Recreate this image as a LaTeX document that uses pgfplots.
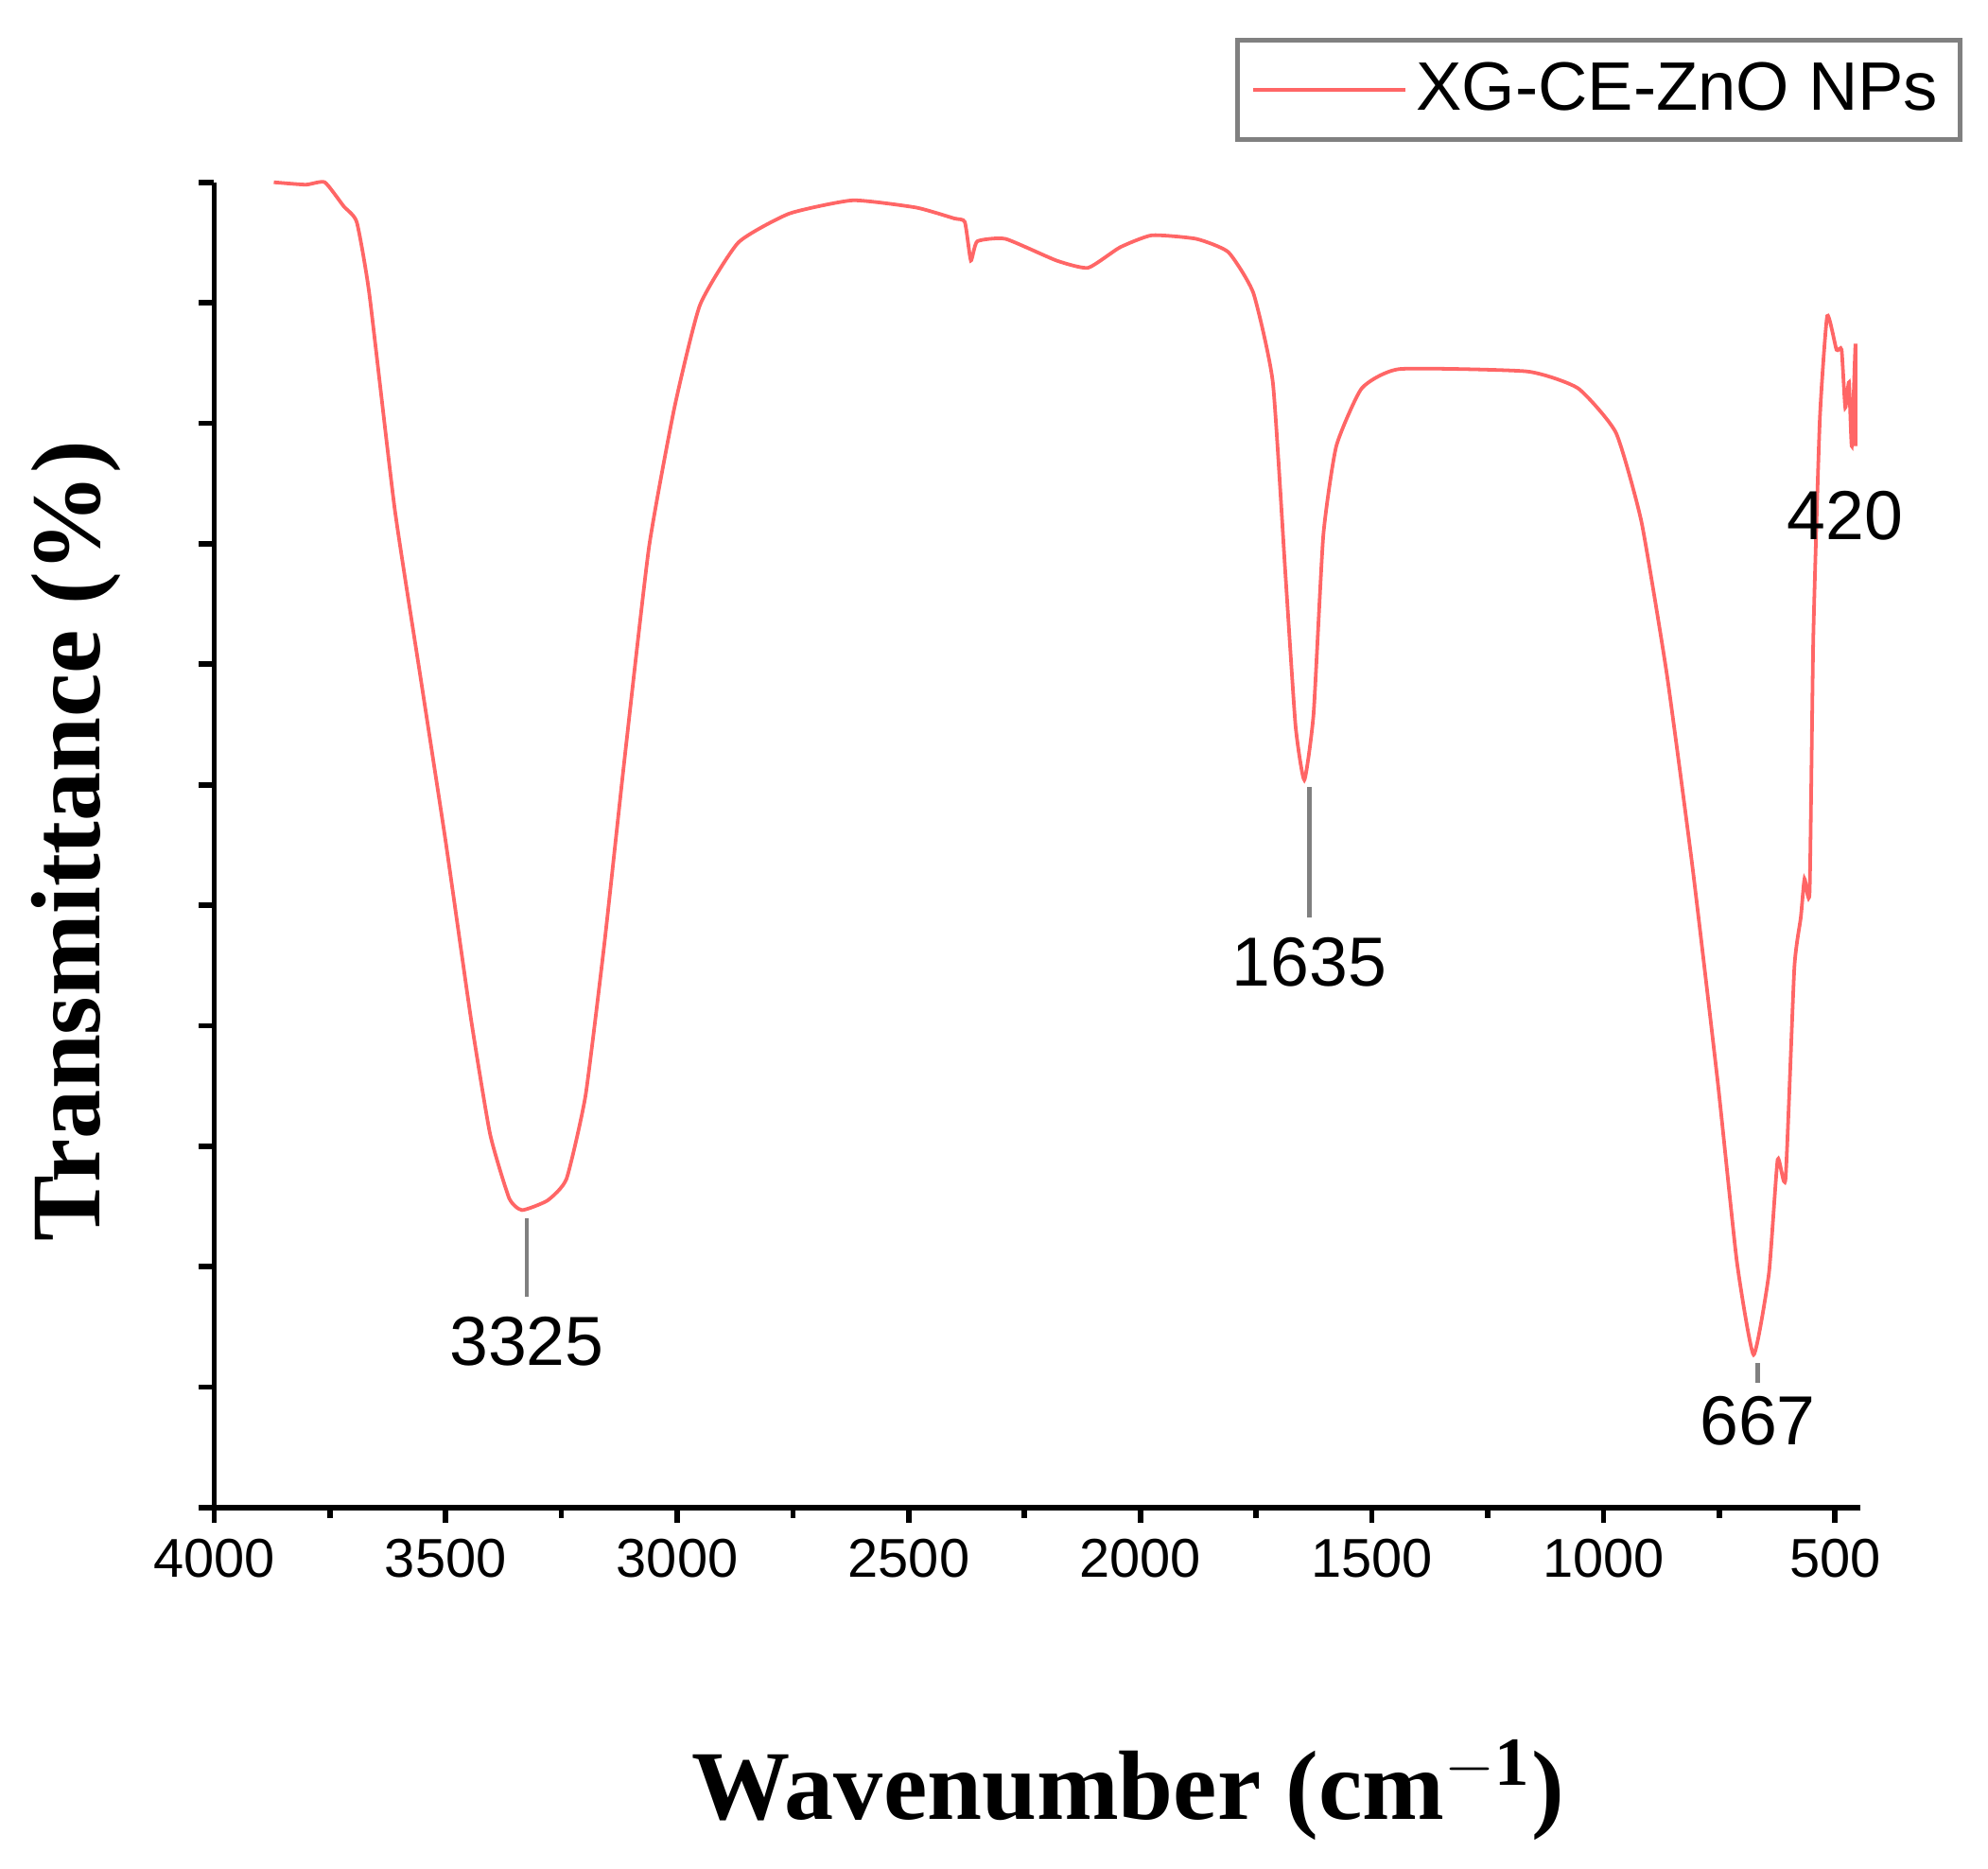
\documentclass[border=0pt]{standalone}
\usepackage{pgfplots}
\pgfplotsset{compat=1.18}
\usepackage{fontspec}
\setmainfont{Liberation Serif}
\setsansfont{Liberation Sans}
\begin{document}
\begin{tikzpicture}
\begin{axis}[at={(0,0)},anchor=south west,scale only axis,
 width=12.92cm,height=10.4cm,
 x dir=reverse,xmin=445,xmax=4000,ymin=0,ymax=11,
 axis lines=left, axis line style={-, line width=1.2pt},
 xtick={500,1000,...,4000}, minor xtick={750,1250,...,3750},
 ytick={0,1,...,11}, yticklabels={},
 tick align=outside, tick style={line width=1.2pt,black},
 major tick length=0.12cm, minor tick length=0.08cm,
 xticklabel style={font=\sffamily\fontsize{12.2}{12.2}\selectfont},
 /pgf/number format/assume math mode=true,
 /pgf/number format/1000 sep={},
 xlabel={\bfseries Wavenumber (cm$^{\mathbf{-1}}$)},
 xlabel style={font=\fontsize{22}{22}\selectfont, at={(axis description cs:0.555,-0.213)},anchor=center},
 ylabel={\bfseries Transmittance (\%)},
 ylabel style={font=\fontsize{22}{22}\selectfont, at={(axis description cs:-0.084,0.503)},anchor=center},
 clip=false,
 legend style={at={(1.062,1.109)},anchor=north east,draw=gray,line width=1pt,
   font=\sffamily\fontsize{15.3}{15.3}\selectfont, inner sep=3pt},
 legend cell align=left,
 legend image code/.code={\draw[#1,line width=0.8pt] (0cm,0cm) -- (1.2cm,0cm);},
]
\addplot[color=red!60, line width=0.8pt, smooth, tension=0.3] coordinates {
(3871,11.0)(3802,10.98)(3761,11)(3720,10.8)(3692,10.67)(3665,10.08)(3610,8.29)(3555,6.91)
(3500,5.53)(3445,4.05)(3404,3.1)(3363,2.57)(3335,2.47)(3280,2.55)(3239,2.73)(3198,3.42)
(3157,4.69)(3115,6.17)(3061,7.97)(3006,9.13)(2951,9.98)(2868,10.5)(2758,10.74)(2621,10.85)
(2484,10.79)(2402,10.7)(2379,10.67)(2366,10.35)(2352,10.51)(2291,10.53)(2181,10.35)(2113,10.29)
(2044,10.46)(1975,10.56)(1879,10.53)(1810,10.42)(1756,10.08)(1714,9.34)(1687,7.76)(1665,6.49)
(1646,6.04)(1626,6.59)(1605,8.07)(1577,8.81)(1522,9.29)(1440,9.45)(1165,9.43)(1055,9.29)
(973,8.92)(918,8.18)(863,6.91)(808,5.32)(753,3.52)(712,2.04)(676,1.27)(643,1.94)(624,2.89)
(607,2.73)(588,4.48)(574,4.9)(566,5.22)(555,5.11)(547,7.23)(533,9.03)(517,9.89)(497,9.61)
(486,9.61)(478,9.13)(470,9.34)(464,8.81)(456,9.66)(456,8.81)
};
\addlegendentry{XG-CE-ZnO NPs}
\draw[gray,line width=1pt] (axis cs:3325,2.4) -- (axis cs:3325,1.75);
\node[font=\sffamily\fontsize{15.5}{15.5}\selectfont] at (axis cs:3325,1.38) {3325};
\draw[gray,line width=1pt] (axis cs:1635,5.98) -- (axis cs:1635,4.9);
\node[font=\sffamily\fontsize{15.5}{15.5}\selectfont] at (axis cs:1635,4.53) {1635};
\draw[gray,line width=1pt] (axis cs:667,1.2) -- (axis cs:667,1.04);
\node[font=\sffamily\fontsize{15.5}{15.5}\selectfont] at (axis cs:667,0.72) {667};
\node[font=\sffamily\fontsize{15.5}{15.5}\selectfont] at (axis cs:478,8.23) {420};
\end{axis}
\path (-1.68,-2.83) rectangle (13.92,11.83);
\end{tikzpicture}
\end{document}
